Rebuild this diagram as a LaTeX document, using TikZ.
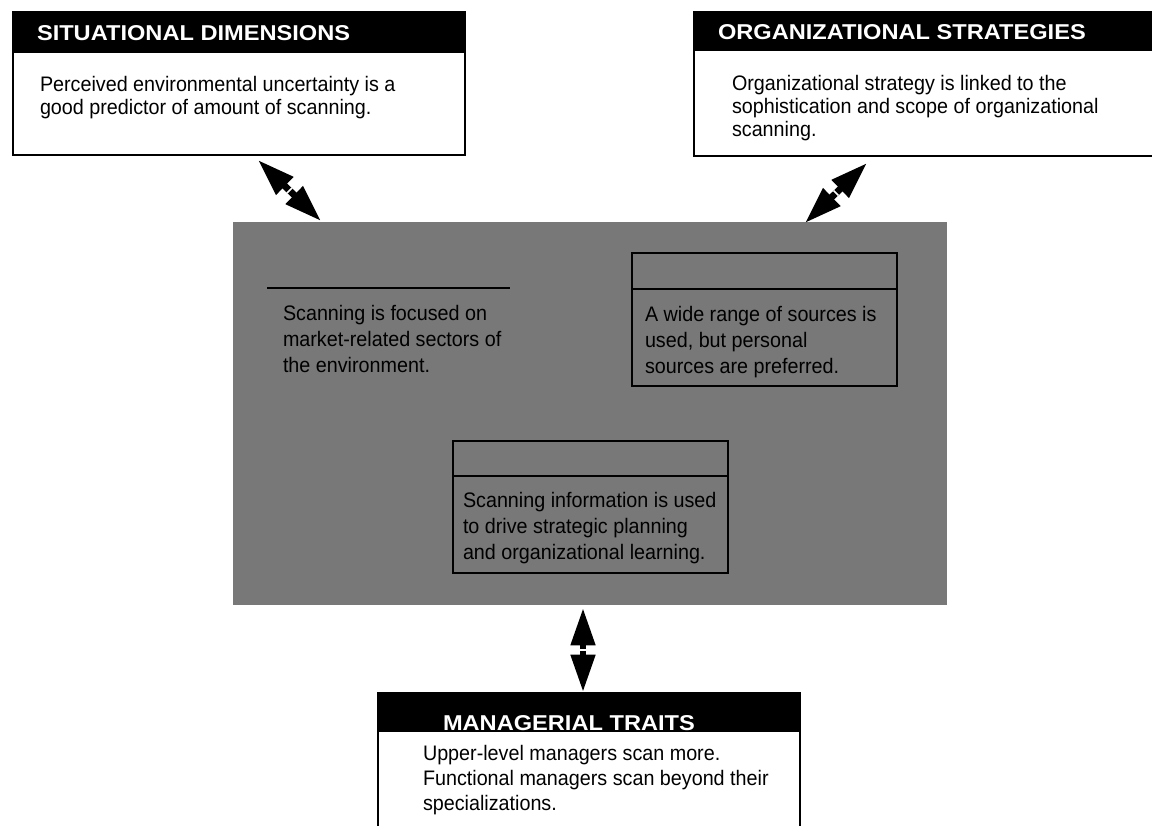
\documentclass[tikz,border=0pt]{standalone}
\usepackage{fontspec}
\setmainfont{Liberation Sans}
\newfontfamily\bodyfont{Liberation Sans}[FakeStretch=0.94]
\newfontfamily\headfont{Liberation Sans}[FakeStretch=1.1]
\usetikzlibrary{arrows.meta,positioning}

\begin{document}
\begin{tikzpicture}[x=.75pt, y=-.75pt,
    every node/.style={inner sep=0pt, outer sep=0pt},
    panel/.style={draw, line width=1pt, fill=white, anchor=north west},
    headbar/.style={fill=black, anchor=north west},
    title/.style={anchor=west, text=white, font=\headfont\bfseries\fontsize{16.1}{18}\selectfont},
    body/.style={anchor=north west, align=left, font=\bodyfont\fontsize{15.75}{17.25}\selectfont},
    inbody/.style={anchor=north west, align=left, font=\bodyfont\fontsize{15.75}{19.5}\selectfont},
    inbox/.style={draw, line width=1.3pt, anchor=north west},
    twoway/.style={line width=5pt, {Triangle[length=28pt,width=17.5pt]}-{Triangle[length=28pt,width=17.5pt]}},
    notch/.style={fill=white, minimum width=1.2pt, minimum height=5pt, sloped}]
  \useasboundingbox (0,0) rectangle (1152,825);
  \clip (0,0) rectangle (1152,825);

  % situational dimensions
  \node [panel, minimum width=339pt, minimum height=107.25pt] (sit) at (13,12) {};
  \node [headbar, minimum width=339pt, minimum height=30.75pt] (sithead) at (13,12) {};
  \node [title] (sittitle) at (37,33) {SITUATIONAL DIMENSIONS};
  \node [body] (sittext) at (40,76) {Perceived environmental uncertainty is a\\good predictor of amount of scanning.};

  % organizational strategies
  \node [panel, minimum width=349.5pt, minimum height=108pt] (org) at (694,12) {};
  \node [headbar, minimum width=349.5pt, minimum height=29.25pt] (orghead) at (694,12) {};
  \node [title] (orgtitle) at (718,32) {ORGANIZATIONAL STRATEGIES};
  \node [body] (orgtext) at (732,75) {Organizational strategy is linked to the\\sophistication and scope of organizational\\scanning.};

  % scanning area
  \node [fill=black!53, anchor=north west, minimum width=535.5pt, minimum height=287.25pt] (scan) at (233,222) {};
  \coordinate (rule1a) at (267,288);
  \coordinate (rule1b) at (510,288);
  \draw [line width=1.3pt] (rule1a) -- (rule1b);
  \node [inbody] (scantext) at (283,305) {Scanning is focused on\\market-related sectors of\\the environment.};

  \node [inbox, minimum width=198.75pt, minimum height=99.75pt] (src) at (632,253) {};
  \coordinate (srcrule) at (0,289);
  \draw [line width=1.3pt] (src.west |- srcrule) -- (src.east |- srcrule);
  \node [inbody] (srctext) at (645,306) {A wide range of sources is\\used, but personal\\sources are preferred.};

  \node [inbox, minimum width=206.25pt, minimum height=99pt] (use) at (453,441) {};
  \coordinate (userule) at (0,476);
  \draw [line width=1.3pt] (use.west |- userule) -- (use.east |- userule);
  \node [inbody] (usetext) at (463,492) {Scanning information is used\\to drive strategic planning\\and organizational learning.};

  % managerial traits
  \node [panel, minimum width=316.5pt, minimum height=102.75pt] (man) at (378,693) {};
  \node [headbar, minimum width=318pt, minimum height=29.25pt] (manhead) at (377,693) {};
  \node [title] (mantitle) at (443,723) {MANAGERIAL TRAITS};
  \node [body, font=\bodyfont\fontsize{15.75}{18.75}\selectfont] (mantext) at (423,745) {Upper-level managers scan more.\\Functional managers scan beyond their\\specializations.};

  % links
  \coordinate (sitend) at (258,160);
  \coordinate (scansit) at (321,221);
  \coordinate (orgend) at (867,163);
  \coordinate (scanorg) at (805,223);
  \coordinate (scanman) at (583,608);
  \coordinate (manend) at (583,692);
  \draw [twoway] (sitend) -- node [notch] (n1) {} (scansit);
  \draw [twoway] (orgend) -- node [notch] (n2) {} (scanorg);
  \draw [twoway] (scanman) -- node [notch] (n3) {} (manend);
\end{tikzpicture}
\end{document}
